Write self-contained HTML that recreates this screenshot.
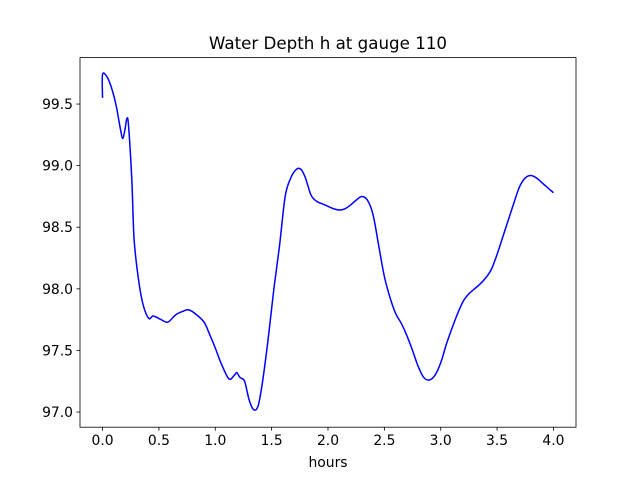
<!DOCTYPE html>
<html><head><meta charset="utf-8"><style>
html,body{margin:0;padding:0;background:#fff;}
svg text{font-family:"DejaVu Sans","Liberation Sans",sans-serif;fill:#000;}
</style></head><body>
<svg id="chart" width="640" height="480" viewBox="0 0 640 480" xmlns="http://www.w3.org/2000/svg">
<rect width="640" height="480" fill="#fff"/>
<text x="328" y="49" font-size="16.7" text-anchor="middle">Water Depth h at gauge 110</text>
<g id="ticks"></g>
<path id="line" fill="none" stroke="#0000ff" stroke-width="1.5" stroke-linejoin="round"/>
<rect x="80" y="57.6" width="496" height="369.6" fill="none" stroke="#000" stroke-width="0.8"/>
<text x="328" y="467" font-size="13.9" text-anchor="middle">hours</text>
</svg>
<script>
const xValues=[0,0,0.04,0.08,0.12,0.16,0.18,0.2,0.215,0.23,0.26,0.28,0.32,0.36,0.41,0.45,0.52,0.58,0.65,0.72,0.76,0.82,0.9,0.95,1.0,1.05,1.12,1.17,1.19,1.22,1.26,1.3,1.34,1.38,1.42,1.47,1.52,1.57,1.62,1.67,1.72,1.76,1.8,1.85,1.9,1.95,2.0,2.05,2.1,2.15,2.2,2.25,2.3,2.35,2.4,2.45,2.5,2.55,2.6,2.65,2.7,2.75,2.8,2.85,2.9,2.95,3.0,3.05,3.1,3.15,3.2,3.25,3.3,3.35,3.4,3.45,3.5,3.55,3.6,3.65,3.7,3.75,3.8,3.85,3.9,3.95,4.0];
const depthValues=[99.55,99.74,99.72,99.63,99.49,99.29,99.22,99.3,99.38,99.33,98.88,98.4,98.07,97.87,97.76,97.78,97.75,97.73,97.79,97.82,97.83,97.8,97.73,97.63,97.52,97.4,97.27,97.3,97.32,97.28,97.25,97.1,97.02,97.05,97.25,97.6,98.0,98.35,98.75,98.9,98.97,98.97,98.9,98.76,98.71,98.69,98.67,98.65,98.64,98.65,98.68,98.72,98.75,98.72,98.6,98.35,98.1,97.93,97.8,97.72,97.62,97.5,97.37,97.28,97.26,97.3,97.4,97.55,97.68,97.8,97.9,97.96,98.0,98.04,98.09,98.16,98.28,98.42,98.56,98.7,98.83,98.9,98.92,98.9,98.86,98.82,98.78];
const xTicks=[0,0.5,1,1.5,2,2.5,3,3.5,4];
const xTickLabels=["0.0","0.5","1.0","1.5","2.0","2.5","3.0","3.5","4.0"];
const yTicks=[97,97.5,98,98.5,99,99.5];
const yTickLabels=["97.0","97.5","98.0","98.5","99.0","99.5"];
const L=80,R=576,T=57.6,B=427.2;
const xmin=-0.2,xmax=4.2,ymin=96.877,ymax=99.877;
const sx=v=>L+(v-xmin)/(xmax-xmin)*(R-L);
const sy=v=>B-(v-ymin)/(ymax-ymin)*(B-T);
const NS="http://www.w3.org/2000/svg";
const g=document.getElementById('ticks');
function mk(tag,attrs){const e=document.createElementNS(NS,tag);for(const k in attrs)e.setAttribute(k,attrs[k]);g.appendChild(e);return e;}
xTicks.forEach((v,i)=>{
  const x=sx(v);
  const t=mk('line',{x1:x,x2:x,y1:B,y2:B+3.5,stroke:'#000','stroke-width':0.8});
  
  
  const tx=mk('text',{x:x,y:B+18,'font-size':13.9,'text-anchor':'middle'});
  tx.textContent=xTickLabels[i];
  
  
});
yTicks.forEach((v,i)=>{
  const y=sy(v);
  const t=mk('line',{x1:L-3.5,x2:L,y1:y,y2:y,stroke:'#000','stroke-width':0.8});
  
  
  const tx=mk('text',{x:L-7,y:y+5,'font-size':13.9,'text-anchor':'end'});
  tx.textContent=yTickLabels[i];
  
  
});
// smooth path (Catmull-Rom)
const pts=xValues.map((x,i)=>[sx(x),sy(depthValues[i])]);
let d='M'+pts[0][0]+','+pts[0][1];
for(let i=0;i<pts.length-1;i++){
  const p0=pts[Math.max(i-1,0)],p1=pts[i],p2=pts[i+1],p3=pts[Math.min(i+2,pts.length-1)];
  const c1=[p1[0]+(p2[0]-p0[0])/6,p1[1]+(p2[1]-p0[1])/6];
  const c2=[p2[0]-(p3[0]-p1[0])/6,p2[1]-(p3[1]-p1[1])/6];
  d+=' C'+c1[0]+','+c1[1]+' '+c2[0]+','+c2[1]+' '+p2[0]+','+p2[1];
}
document.getElementById('line').setAttribute('d',d);
</script>
</body></html>
